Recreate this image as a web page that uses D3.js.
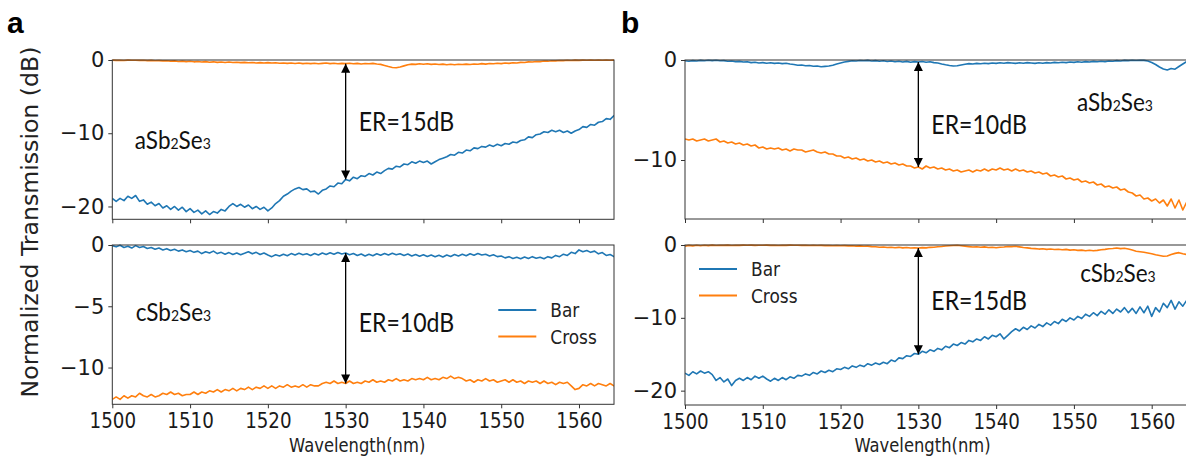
<!DOCTYPE html>
<html>
<head>
<meta charset="utf-8">
<script src="https://cdn.jsdelivr.net/npm/d3@7"></script>
<style>
  body { margin: 0; background: #fff; }
  svg { display: block; font-family: "DejaVu Sans", sans-serif; }
</style>
</head>
<body>
<svg id="chart" width="1186" height="461"></svg>
<script>
// Wavelength sampling grid (nm)
const wavelength = [
  1500,1500.5,1501,1501.5,1502,1502.5,1503,1503.5,1504,1504.5,
  1505,1505.5,1506,1506.5,1507,1507.5,1508,1508.5,1509,1509.5,
  1510,1510.5,1511,1511.5,1512,1512.5,1513,1513.5,1514,1514.5,
  1515,1515.5,1516,1516.5,1517,1517.5,1518,1518.5,1519,1519.5,
  1520,1520.5,1521,1521.5,1522,1522.5,1523,1523.5,1524,1524.5,
  1525,1525.5,1526,1526.5,1527,1527.5,1528,1528.5,1529,1529.5,
  1530,1530.5,1531,1531.5,1532,1532.5,1533,1533.5,1534,1534.5,
  1535,1535.5,1536,1536.5,1537,1537.5,1538,1538.5,1539,1539.5,
  1540,1540.5,1541,1541.5,1542,1542.5,1543,1543.5,1544,1544.5,
  1545,1545.5,1546,1546.5,1547,1547.5,1548,1548.5,1549,1549.5,
  1550,1550.5,1551,1551.5,1552,1552.5,1553,1553.5,1554,1554.5,
  1555,1555.5,1556,1556.5,1557,1557.5,1558,1558.5,1559,1559.5,
  1560,1560.5,1561,1561.5,1562,1562.5,1563,1563.5,1564,1564.5,
  1565
];

// Panel a, amorphous state (dB)
const aAmorphousBar = [
  -18.9,-19.3,-18.9,-19.2,-18.6,-18.9,-18.5,-19.3,-19.1,-19.7,
  -19.4,-19.9,-19.6,-20.2,-19.9,-20.4,-20.0,-20.5,-20.1,-20.7,
  -20.3,-20.8,-20.5,-21.0,-20.6,-21.1,-20.7,-20.9,-20.4,-20.6,
  -20.0,-19.6,-20.0,-19.7,-20.1,-19.8,-20.3,-20.0,-20.4,-20.1,
  -20.6,-20.2,-19.6,-19.2,-18.6,-18.3,-17.9,-17.6,-17.4,-17.7,
  -17.6,-18.0,-17.9,-18.3,-17.8,-17.6,-17.2,-17.3,-16.8,-16.9,
  -16.3,-16.5,-16.0,-16.2,-15.8,-15.9,-15.5,-15.7,-15.3,-15.5,
  -15.1,-14.8,-14.9,-14.5,-14.6,-14.2,-14.3,-13.9,-14.1,-13.8,
  -14.0,-13.8,-14.2,-13.9,-13.6,-13.4,-13.2,-12.9,-13.0,-12.6,
  -12.7,-12.3,-12.4,-12.0,-12.1,-11.8,-11.9,-11.6,-11.8,-11.5,
  -11.7,-11.4,-11.5,-11.2,-11.3,-11.0,-10.9,-10.5,-10.6,-10.2,
  -10.1,-9.8,-9.9,-9.6,-9.8,-9.6,-9.9,-9.7,-10.0,-9.7,
  -9.5,-9.1,-9.2,-8.8,-8.9,-8.5,-8.4,-8.0,-8.1,-7.6,
  -7.4
];
const aAmorphousCross = [
  -0.02,-0.05,-0.03,-0.06,-0.02,-0.04,-0.03,-0.05,-0.04,-0.08,
  -0.05,-0.10,-0.08,-0.12,-0.10,-0.15,-0.12,-0.20,-0.15,-0.22,
  -0.18,-0.25,-0.20,-0.28,-0.22,-0.30,-0.25,-0.32,-0.28,-0.35,
  -0.28,-0.34,-0.30,-0.36,-0.32,-0.38,-0.34,-0.40,-0.36,-0.42,
  -0.36,-0.42,-0.38,-0.44,-0.40,-0.46,-0.42,-0.48,-0.42,-0.50,
  -0.44,-0.50,-0.45,-0.52,-0.46,-0.42,-0.50,-0.45,-0.52,-0.46,
  -0.50,-0.44,-0.52,-0.46,-0.54,-0.48,-0.52,-0.46,-0.55,-0.60,
  -0.75,-0.90,-1.02,-1.05,-0.95,-0.80,-0.64,-0.56,-0.60,-0.52,
  -0.58,-0.52,-0.60,-0.54,-0.62,-0.56,-0.64,-0.58,-0.64,-0.58,
  -0.62,-0.56,-0.62,-0.54,-0.58,-0.50,-0.56,-0.48,-0.52,-0.44,
  -0.50,-0.42,-0.46,-0.38,-0.40,-0.32,-0.34,-0.26,-0.28,-0.20,
  -0.22,-0.14,-0.16,-0.10,-0.12,-0.06,-0.08,-0.04,-0.06,-0.02,
  -0.05,-0.02,-0.04,-0.01,-0.03,-0.02,-0.04,-0.01,-0.03,-0.02,
  -0.02
];

// Panel a, crystalline state (dB)
const aCrystallineBar = [
  -0.05,-0.15,-0.02,-0.20,-0.10,-0.25,-0.05,-0.20,-0.12,-0.28,
  -0.20,-0.35,-0.25,-0.40,-0.30,-0.45,-0.35,-0.50,-0.40,-0.55,
  -0.45,-0.60,-0.50,-0.70,-0.55,-0.65,-0.50,-0.70,-0.60,-0.75,
  -0.62,-0.78,-0.65,-0.80,-0.68,-0.55,-0.72,-0.60,-0.78,-0.65,
  -0.82,-0.95,-0.80,-0.90,-0.75,-0.88,-0.70,-0.82,-0.68,-0.80,
  -0.72,-0.85,-0.70,-0.82,-0.66,-0.78,-0.64,-0.76,-0.62,-0.74,
  -0.66,-0.80,-0.70,-0.86,-0.74,-0.90,-0.76,-0.88,-0.72,-0.84,
  -0.70,-0.82,-0.68,-0.80,-0.72,-0.86,-0.74,-0.90,-0.78,-0.92,
  -0.80,-0.94,-0.82,-0.96,-0.84,-0.98,-0.82,-0.94,-0.78,-0.90,
  -0.76,-0.88,-0.72,-0.84,-0.70,-0.82,-0.76,-0.90,-0.80,-0.95,
  -0.90,-1.05,-0.95,-1.10,-1.00,-1.12,-0.98,-1.10,-0.95,-1.08,
  -1.00,-1.12,-0.95,-1.05,-0.85,-0.95,-0.75,-0.85,-0.60,-0.70,
  -0.40,-0.55,-0.45,-0.60,-0.50,-0.72,-0.62,-0.85,-0.78,-0.95,
  -1.00
];
const aCrystallineCross = [
  -12.6,-12.4,-12.6,-12.3,-12.5,-12.3,-12.4,-12.1,-12.3,-12.4,
  -12.2,-12.4,-12.3,-12.1,-12.2,-12.0,-12.2,-12.1,-12.3,-12.2,
  -12.2,-12.0,-12.2,-12.0,-12.1,-11.9,-12.0,-11.8,-12.0,-11.8,
  -11.9,-11.7,-11.9,-11.7,-11.8,-11.6,-11.8,-11.6,-11.7,-11.5,
  -11.7,-11.5,-11.7,-11.5,-11.6,-11.4,-11.6,-11.5,-11.6,-11.4,
  -11.6,-11.4,-11.5,-11.5,-11.3,-11.2,-11.3,-11.1,-11.3,-11.2,
  -11.3,-11.1,-11.3,-11.2,-11.3,-11.1,-11.2,-11.0,-11.2,-11.1,
  -11.2,-11.0,-11.1,-10.9,-11.1,-11.0,-11.1,-10.9,-11.0,-10.9,
  -11.0,-10.8,-11.0,-10.9,-11.0,-10.8,-10.9,-10.7,-10.9,-10.8,
  -10.9,-11.1,-11.0,-11.2,-11.0,-11.1,-10.9,-11.1,-11.0,-11.2,
  -11.1,-11.0,-11.2,-11.0,-11.2,-11.1,-11.3,-11.1,-11.2,-11.1,
  -11.3,-11.1,-11.3,-11.2,-11.4,-11.2,-11.3,-11.2,-11.5,-11.8,
  -11.7,-11.4,-11.5,-11.3,-11.5,-11.3,-11.4,-11.5,-11.3,-11.5,
  -11.4
];

// Panel b, amorphous state (dB)
const bAmorphousBar = [
  -0.08,-0.12,-0.06,-0.10,-0.04,-0.08,-0.02,-0.06,-0.03,-0.08,
  -0.06,-0.12,-0.10,-0.16,-0.14,-0.20,-0.18,-0.26,-0.22,-0.30,
  -0.26,-0.32,-0.28,-0.34,-0.30,-0.36,-0.32,-0.40,-0.45,-0.52,
  -0.50,-0.58,-0.55,-0.62,-0.60,-0.68,-0.64,-0.60,-0.52,-0.40,
  -0.30,-0.20,-0.14,-0.08,-0.10,-0.05,-0.08,-0.04,-0.10,-0.06,
  -0.12,-0.08,-0.15,-0.10,-0.18,-0.12,-0.20,-0.14,-0.22,-0.16,
  -0.20,-0.15,-0.22,-0.18,-0.26,-0.30,-0.40,-0.48,-0.55,-0.60,
  -0.58,-0.50,-0.42,-0.36,-0.40,-0.34,-0.38,-0.32,-0.36,-0.30,
  -0.34,-0.28,-0.32,-0.26,-0.30,-0.34,-0.28,-0.32,-0.26,-0.30,
  -0.34,-0.28,-0.32,-0.26,-0.30,-0.24,-0.28,-0.22,-0.26,-0.20,
  -0.24,-0.18,-0.22,-0.16,-0.20,-0.14,-0.18,-0.12,-0.16,-0.10,
  -0.12,-0.06,-0.10,-0.04,-0.06,-0.02,-0.05,-0.02,-0.04,-0.10,
  -0.25,-0.45,-0.70,-0.90,-1.00,-0.85,-0.92,-0.65,-0.40,-0.15,
  -0.03
];
const bAmorphousCross = [
  -7.9,-8.0,-7.9,-8.1,-8.0,-7.9,-8.1,-8.0,-7.9,-8.2,
  -8.1,-8.3,-8.2,-8.4,-8.3,-8.5,-8.4,-8.6,-8.5,-8.8,
  -8.7,-8.9,-8.8,-8.9,-8.8,-9.0,-8.9,-9.1,-8.9,-9.0,
  -9.0,-9.2,-9.1,-9.0,-9.2,-9.3,-9.2,-9.4,-9.4,-9.6,
  -9.6,-9.8,-9.7,-9.9,-9.8,-10.0,-9.9,-10.1,-10.0,-10.2,
  -10.1,-10.3,-10.2,-10.4,-10.3,-10.5,-10.4,-10.6,-10.6,-10.8,
  -10.7,-10.9,-10.6,-10.8,-10.7,-10.9,-10.8,-11.0,-10.9,-11.1,
  -11.0,-11.2,-11.1,-11.0,-11.2,-11.0,-11.1,-10.9,-11.1,-10.9,
  -11.0,-10.8,-11.0,-10.9,-11.1,-10.9,-11.1,-11.0,-11.2,-11.1,
  -11.3,-11.2,-11.4,-11.3,-11.6,-11.5,-11.7,-11.6,-11.9,-11.8,
  -12.0,-11.9,-12.2,-12.1,-12.3,-12.2,-12.5,-12.4,-12.7,-12.6,
  -12.8,-12.7,-13.0,-12.9,-13.2,-13.3,-13.6,-13.5,-13.9,-13.8,
  -14.1,-13.9,-14.3,-14.0,-14.6,-13.9,-14.8,-14.0,-15.0,-14.2,
  -14.9
];

// Panel b, crystalline state (dB)
const bCrystallineBar = [
  -17.6,-17.9,-17.4,-17.7,-17.3,-17.6,-17.4,-17.8,-18.6,-18.2,
  -18.8,-18.4,-19.3,-18.6,-18.3,-18.6,-18.2,-18.5,-18.0,-18.3,
  -18.0,-18.4,-18.7,-18.3,-18.6,-18.2,-18.5,-18.1,-18.3,-17.9,
  -18.0,-17.7,-17.9,-17.5,-17.7,-17.3,-17.5,-17.2,-17.4,-17.0,
  -17.1,-16.8,-17.0,-16.6,-16.8,-16.5,-16.7,-16.3,-16.5,-16.2,
  -16.4,-16.1,-16.3,-15.8,-16.0,-15.5,-15.6,-15.2,-15.3,-14.9,
  -15.0,-14.6,-14.8,-14.4,-14.6,-14.2,-14.4,-13.9,-14.1,-13.6,
  -13.8,-13.4,-13.6,-13.1,-13.3,-12.9,-13.1,-12.6,-12.9,-12.4,
  -12.6,-12.2,-12.9,-12.4,-11.9,-11.5,-11.8,-11.3,-11.6,-11.1,
  -11.4,-10.9,-11.2,-10.7,-11.0,-10.5,-10.8,-10.2,-10.5,-10.0,
  -10.3,-9.8,-10.1,-9.5,-9.8,-9.3,-9.7,-9.1,-9.5,-8.9,
  -9.4,-8.8,-9.2,-8.6,-9.3,-8.7,-9.4,-8.5,-9.3,-8.4,
  -9.8,-8.6,-9.2,-8.0,-8.6,-7.6,-8.8,-7.8,-8.4,-7.6,
  -7.9
];
const bCrystallineCross = [
  -0.15,-0.05,-0.12,-0.04,-0.10,-0.03,-0.08,-0.02,-0.06,-0.03,
  -0.05,-0.02,-0.06,-0.03,-0.05,-0.02,-0.04,-0.02,-0.05,-0.03,
  -0.04,-0.02,-0.05,-0.03,-0.06,-0.03,-0.05,-0.02,-0.04,-0.03,
  -0.05,-0.03,-0.06,-0.04,-0.07,-0.05,-0.08,-0.06,-0.10,-0.08,
  -0.10,-0.08,-0.12,-0.10,-0.15,-0.12,-0.18,-0.15,-0.22,-0.25,
  -0.30,-0.28,-0.35,-0.30,-0.38,-0.32,-0.40,-0.35,-0.42,-0.38,
  -0.42,-0.36,-0.40,-0.32,-0.30,-0.24,-0.20,-0.14,-0.10,-0.06,
  -0.04,-0.10,-0.15,-0.22,-0.28,-0.24,-0.30,-0.26,-0.34,-0.30,
  -0.38,-0.30,-0.28,-0.20,-0.22,-0.18,-0.26,-0.34,-0.40,-0.46,
  -0.50,-0.56,-0.52,-0.60,-0.55,-0.62,-0.58,-0.66,-0.60,-0.70,
  -0.66,-0.74,-0.70,-0.78,-0.72,-0.80,-0.74,-0.66,-0.60,-0.52,
  -0.48,-0.42,-0.50,-0.45,-0.56,-0.70,-0.85,-0.92,-1.00,-1.10,
  -1.20,-1.35,-1.45,-1.55,-1.50,-1.30,-1.15,-1.05,-1.20,-1.30,
  -1.25
];

const xTicks = [1500, 1510, 1520, 1530, 1540, 1550, 1560];
const seriesNames = ["Bar", "Cross"];
const erLabels = ["ER=15dB", "ER=10dB", "ER=10dB", "ER=15dB"];
const materialPrefixes = ["a", "c", "a", "c"];

const colors = { Bar: "#1f77b4", Cross: "#ff7f0e" };
const ER_WAVELENGTH = 1530;
const NARROW = 0.87;   // horizontal text compression

// Axes layout: pixel frame of each subplot, y range and annotation anchors
const axesSpecs = [
  { id: "a1", left: 112.3, right: 614, top: 60, bottom: 219.3, yMin: -21.75, yTicks: [0, -10, -20],
    bar: aAmorphousBar, cross: aAmorphousCross, xLabels: false, er: erLabels[0], erY: -8.45,
    mat: materialPrefixes[0], matAt: [1502.9, -10.9], legend: null },
  { id: "a2", left: 112.3, right: 614, top: 245, bottom: 404.3, yMin: -13.0, yTicks: [0, -5, -10],
    bar: aCrystallineBar, cross: aCrystallineCross, xLabels: true, er: erLabels[1], erY: -6.3,
    mat: materialPrefixes[1], matAt: [1503.0, -5.45], legend: [386, 65] },
  { id: "b1", left: 685, right: 1186.7, top: 60, bottom: 219, yMin: -15.9, yTicks: [0, -10],
    bar: bAmorphousBar, cross: bAmorphousCross, xLabels: false, er: erLabels[2], erY: -6.4,
    mat: materialPrefixes[2], matAt: [1550.4, -4.17], legend: null },
  { id: "b2", left: 685, right: 1186.7, top: 245, bottom: 405, yMin: -21.97, yTicks: [0, -10, -20],
    bar: bCrystallineBar, cross: bCrystallineCross, xLabels: true, er: erLabels[3], erY: -7.55,
    mat: materialPrefixes[3], matAt: [1550.8, -3.85], legend: [14, 24] }
];

const svg = d3.select("#chart");
const defs = svg.append("defs");
defs.append("marker")
  .attr("id", "arrowHead")
  .attr("viewBox", "0 0 10 10")
  .attr("refX", 10).attr("refY", 5)
  .attr("markerUnits", "userSpaceOnUse")
  .attr("markerWidth", 10).attr("markerHeight", 9)
  .attr("orient", "auto-start-reverse")
  .append("path").attr("d", "M0,0L10,5L0,10Z").attr("fill", "#000");

function materialText(sel, prefix) {
  sel.append("tspan").text(prefix + "Sb");
  sel.append("tspan").attr("font-size", "0.62em").text("2");
  sel.append("tspan").text("Se");
  sel.append("tspan").attr("font-size", "0.62em").text("3");
}

// text placed at (px, py) and compressed horizontally
function narrowText(parent, px, py, sx) {
  return parent.append("text")
    .attr("transform", `translate(${px},${py}) scale(${sx},1)`);
}

axesSpecs.forEach(spec => {
  const x = d3.scaleLinear().domain([1500, 1564.5]).range([spec.left, spec.right]);
  const y = d3.scaleLinear().domain([spec.yMin, 0]).range([spec.bottom, spec.top]);
  const g = svg.append("g").attr("class", "axes-" + spec.id);

  defs.append("clipPath").attr("id", "clip-" + spec.id)
    .append("rect")
    .attr("x", spec.left).attr("y", spec.top - 1)
    .attr("width", spec.right - spec.left).attr("height", spec.bottom - spec.top + 1);

  // data lines
  const line = d3.line().x((d, i) => x(wavelength[i])).y(d => y(d));
  const plot = g.append("g").attr("clip-path", `url(#clip-${spec.id})`);
  plot.append("path").datum(spec.bar)
    .attr("d", line).attr("fill", "none")
    .attr("stroke", colors.Bar).attr("stroke-width", 1.6).attr("stroke-linejoin", "round");
  plot.append("path").datum(spec.cross)
    .attr("d", line).attr("fill", "none")
    .attr("stroke", colors.Cross).attr("stroke-width", 1.6).attr("stroke-linejoin", "round");

  // axes
  const xAxis = d3.axisBottom(x).tickValues(xTicks).tickSize(4).tickPadding(5)
    .tickFormat(spec.xLabels ? d3.format("d") : () => "");
  const gx = g.append("g").attr("transform", `translate(0,${spec.bottom})`).call(xAxis);
  const yAxis = d3.axisLeft(y).tickValues(spec.yTicks).tickSize(4).tickPadding(4)
    .tickFormat(d => d === 0 ? "0" : "\u2212" + Math.abs(d));
  const gy = g.append("g").attr("transform", `translate(${spec.left},0)`).call(yAxis);
  [gx, gy].forEach(a => {
    a.select(".domain").remove();
    a.selectAll(".tick line").attr("stroke", "#333").attr("stroke-width", 1);
    a.selectAll(".tick text").attr("fill", "#1a1a1a")
      .style("font-family", "'DejaVu Sans', sans-serif").style("font-size", "21px");
  });
  gx.selectAll(".tick text").attr("transform", `scale(${NARROW},1)`);

  // frame
  g.append("rect")
    .attr("x", spec.left).attr("y", spec.top)
    .attr("width", spec.right - spec.left).attr("height", spec.bottom - spec.top)
    .attr("fill", "none").attr("stroke", "#333").attr("stroke-width", 1);

  // extinction-ratio arrow between Cross and Bar at 1530 nm
  const idx = wavelength.indexOf(ER_WAVELENGTH);
  const ax = x(ER_WAVELENGTH);
  const yA = y(Math.max(spec.bar[idx], spec.cross[idx]));
  const yB = y(Math.min(spec.bar[idx], spec.cross[idx]));
  g.append("line")
    .attr("x1", ax).attr("x2", ax).attr("y1", yA).attr("y2", yB)
    .attr("stroke", "#000").attr("stroke-width", 1.3)
    .attr("marker-start", "url(#arrowHead)").attr("marker-end", "url(#arrowHead)");

  narrowText(g, ax + 13, y(spec.erY), NARROW)
    .attr("dy", "0.36em")
    .style("font-family", "Lato, 'Open Sans', sans-serif").style("font-size", "26.5px")
    .attr("fill", "#111").text(spec.er);

  const mt = narrowText(g, x(spec.matAt[0]), y(spec.matAt[1]), 0.92)
    .attr("dy", "0.36em")
    .style("font-family", "Lato, 'Open Sans', sans-serif").style("font-size", "24.5px")
    .attr("fill", "#111");
  materialText(mt, spec.mat);

  // legend
  if (spec.legend) {
    const lg = g.append("g")
      .attr("transform", `translate(${spec.left + spec.legend[0]},${spec.top + spec.legend[1]})`);
    seriesNames.forEach((name, i) => {
      const row = lg.append("g").attr("transform", `translate(0,${i * 26.5})`);
      row.append("line").attr("x1", 0).attr("x2", 38).attr("y1", 0).attr("y2", 0)
        .attr("stroke", colors[name]).attr("stroke-width", 2);
      narrowText(row, 52, 0, NARROW).attr("dy", "0.36em")
        .style("font-size", "19.5px").attr("fill", "#222").text(name);
    });
  }

  if (spec.xLabels) {
    narrowText(g, (spec.left + Math.min(spec.right, 1172)) / 2 - 6, 452, 0.84)
      .attr("text-anchor", "middle").style("font-size", "19.5px").attr("fill", "#222")
      .text("Wavelength(nm)");
  }
});

// shared y-axis title
svg.append("text")
  .attr("transform", "translate(38,222) rotate(-90)")
  .attr("text-anchor", "middle").style("font-size", "23.6px").attr("fill", "#222")
  .text("Normalized Transmission (dB)");

// panel letters
[["a", 7, 33], ["b", 621, 33]].forEach(([t, px, py]) => {
  svg.append("text").attr("x", px).attr("y", py)
    .style("font-family", "'Liberation Sans', Arial, sans-serif")
    .style("font-weight", "bold").style("font-size", "30px").attr("fill", "#000").text(t);
});
</script>
</body>
</html>
